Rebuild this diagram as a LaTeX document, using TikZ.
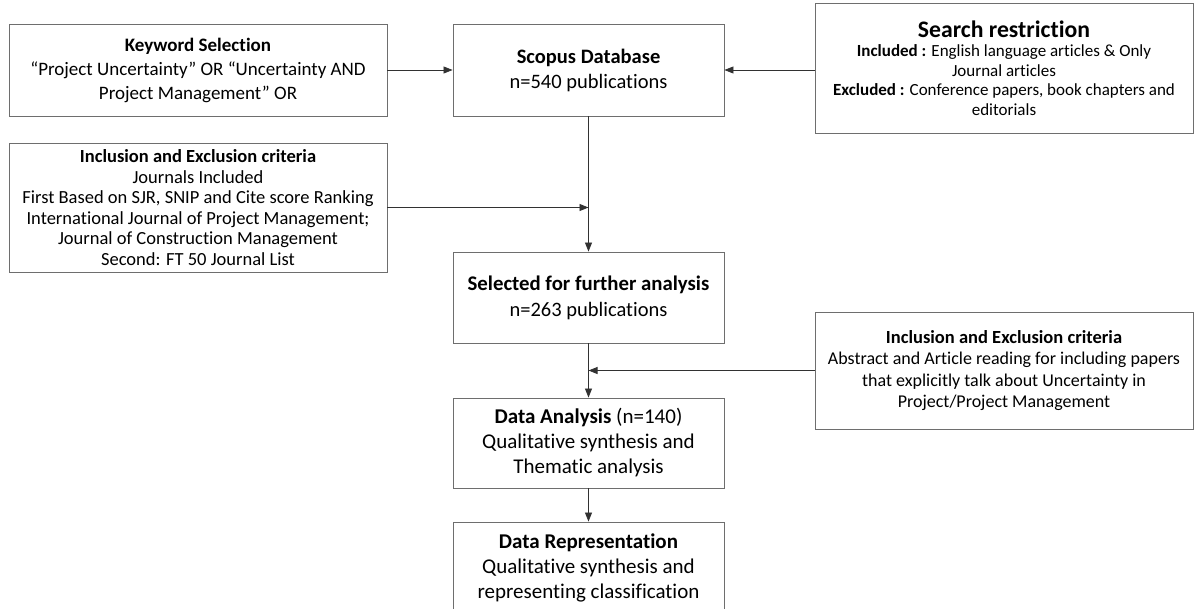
\documentclass[tikz,border=0pt]{standalone}
\usepackage{fontspec}
\setmainfont{Carlito}[Ligatures=NoCommon]
\usetikzlibrary{arrows.meta,positioning,calc}
\definecolor{boxgray}{RGB}{110,110,110}
\definecolor{arrgray}{RGB}{50,50,50}
\tikzset{
  box/.style={draw=boxgray,line width=0.9pt,align=center,inner sep=0pt},
  arr/.style={-{Triangle[length=9pt,width=7pt]},line width=0.8pt,arrgray},
}
\begin{document}
\begin{tikzpicture}[x=1pt,y=-1pt]
  \useasboundingbox (0,0) rectangle (1194,608);
  % left column
  \node[box,minimum width=378pt,minimum height=92pt,
        font=\fontsize{19}{24}\selectfont]
        (kw) at (198,70) {\textbf{Keyword Selection}\\
        “Project Uncertainty” OR “Uncertainty AND\\Project Management” OR};
  \node[box,minimum width=378pt,minimum height=129pt,
        font=\fontsize{18.5}{20.5}\selectfont]
        (incl1) at (198,207.5) {{\fontsize{18.5}{23}\selectfont\bfseries Inclusion and Exclusion criteria}\\
        Journals Included\\First Based on SJR, SNIP and Cite score Ranking\\
        International Journal of Project Management;\\Journal of Construction Management\\
        Second: FT 50 Journal List};
  % main column
  \node[box,minimum width=271pt,minimum height=92pt,
        font=\fontsize{20.5}{25}\selectfont]
        (scopus) at (588.5,70) {\textbf{Scopus Database}\\n=540 publications};
  \node[box,minimum width=271pt,minimum height=91pt,
        font=\fontsize{20.5}{26}\selectfont]
        (sel) at (588.5,297.5) {{\fontsize{20.8}{26}\selectfont\bfseries Selected for further analysis}\\n=263 publications};
  \node[box,minimum width=271pt,minimum height=90pt,
        font=\fontsize{21}{25}\selectfont]
        (ana) at (588.5,443) {\textbf{Data Analysis} (n=140)\\Qualitative synthesis and\\Thematic analysis};
  \node[box,minimum width=271pt,minimum height=92pt,
        font=\fontsize{21}{25}\selectfont]
        (rep) at (588.5,568) {\textbf{Data Representation}\\Qualitative synthesis and\\representing classification};
  % right column
  \node[box,minimum width=378pt,minimum height=130pt,
        font=\fontsize{17}{19.5}\selectfont]
        (search) at (1004,68) {{\fontsize{23.7}{21}\selectfont\bfseries Search restriction}\\
        \textbf{Included :} English language articles \& Only\\Journal articles\\
        \textbf{Excluded :} Conference papers, book chapters and\\editorials};
  \node[box,minimum width=378pt,minimum height=117pt,
        font=\fontsize{18}{21.5}\selectfont]
        (incl2) at (1004,370.5) {{\fontsize{18.5}{23}\selectfont\bfseries Inclusion and Exclusion criteria}\\
        Abstract and Article reading for including papers\\that explicitly talk about Uncertainty in\\
        Project/Project Management};
  % connectors
  \coordinate (j1) at (scopus.south |- incl1.east);
  \coordinate (j2) at (sel.south |- incl2.west);
  \draw[arr] (kw.east) -- (scopus.west);
  \draw[arr] (search.west |- scopus.east) -- (scopus.east);
  \draw[arr] (scopus.south) -- (sel.north);
  \draw[arr] (incl1.east) -- (j1);
  \draw[arr] (sel.south) -- (ana.north);
  \draw[arr] (incl2.west) -- (j2);
  \draw[arr] (ana.south) -- (rep.north);
\end{tikzpicture}
\end{document}
